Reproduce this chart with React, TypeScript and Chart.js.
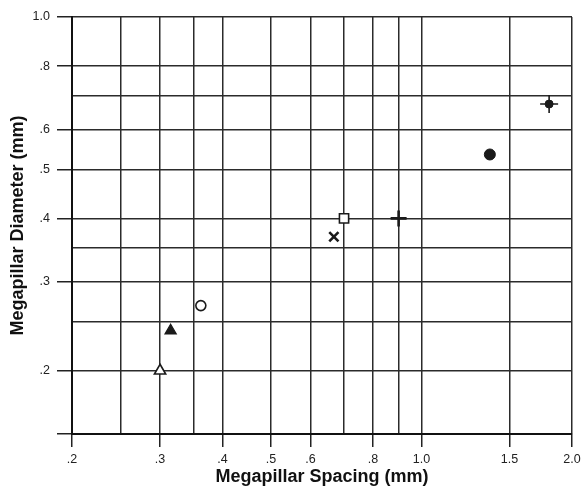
import React, { useEffect, useRef } from "react";
import { Chart, registerables } from "chart.js";

Chart.register(...registerables);

// ---- Data ----
const seriesNames = [
  "Open triangle",
  "Filled triangle",
  "Open circle",
  "Cross",
  "Open square",
  "Plus",
  "Filled circle",
  "Circle with cross",
];
const spacingMm = [0.3, 0.315, 0.362, 0.668, 0.7, 0.9, 1.37, 1.8];
const diameterMm = [0.2, 0.24, 0.269, 0.368, 0.4, 0.4, 0.535, 0.673];

const xTickValues = [0.2, 0.3, 0.4, 0.5, 0.6, 0.8, 1.0, 1.5, 2.0];
const xTickLabels = [".2", ".3", ".4", ".5", ".6", ".8", "1.0", "1.5", "2.0"];
const xExtraGrid = [0.25, 0.35, 0.7, 0.9];

const yTickValues = [0.15, 0.2, 0.3, 0.4, 0.5, 0.6, 0.8, 1.0];
const yTickLabels = ["", ".2", ".3", ".4", ".5", ".6", ".8", "1.0"];
const yExtraGrid = [0.25, 0.35, 0.7];

const xTitle = "Megapillar Spacing (mm)";
const yTitle = "Megapillar Diameter (mm)";

// ---- Styles (per series) ----
const INK = "#1a1a1a";
const markerStyles = [
  { pointStyle: "triangle", radius: 6.5, fill: "#ffffff", width: 1.6 },
  { pointStyle: "triangle", radius: 6.5, fill: INK, width: 1.2 },
  { pointStyle: "circle", radius: 5, fill: "#ffffff", width: 1.6 },
  { pointStyle: "crossRot", radius: 6.5, fill: INK, width: 2.6 },
  { pointStyle: "rect", radius: 6.5, fill: "#ffffff", width: 1.6 },
  { pointStyle: "cross", radius: 8, fill: INK, width: 2.6 },
  { pointStyle: "circle", radius: 5.5, fill: INK, width: 1 },
  { pointStyle: "circle", radius: 4, fill: INK, width: 1 },
];

const near = (a: number, b: number) => Math.abs(a - b) < 1e-9;
const findIdx = (arr: number[], v: number) => arr.findIndex((a) => near(a, v));

const FONT_FAMILY = "'Liberation Sans', Arial, Helvetica, sans-serif";

export default function App() {
  const ref = useRef<HTMLCanvasElement | null>(null);

  useEffect(() => {
    document.body.style.margin = "0";
    const canvas = ref.current;
    if (!canvas) return;

    const datasets: any[] = seriesNames.map((name, i) => ({
      label: name,
      data: [{ x: spacingMm[i], y: diameterMm[i] }],
      pointStyle: markerStyles[i].pointStyle,
      pointRadius: markerStyles[i].radius,
      pointBackgroundColor: markerStyles[i].fill,
      pointBorderColor: INK,
      pointBorderWidth: markerStyles[i].width,
      showLine: false,
    }));
    // cross-hair on the last point
    datasets.push({
      label: seriesNames[7] + " bars",
      data: [{ x: spacingMm[7], y: diameterMm[7] }],
      pointStyle: "cross",
      pointRadius: 9,
      pointBackgroundColor: INK,
      pointBorderColor: INK,
      pointBorderWidth: 1.6,
      showLine: false,
    });

    const xAll = [...xTickValues, ...xExtraGrid].sort((a, b) => a - b);
    const yAll = [...yTickValues, ...yExtraGrid].sort((a, b) => a - b);

    const chart = new Chart(canvas, {
      type: "scatter",
      data: { datasets },
      options: {
        animation: false,
        responsive: false,
        devicePixelRatio: 1,
        events: [],
        layout: { padding: { top: 17, right: 11, left: 0, bottom: 0 } },
        plugins: { legend: { display: false }, tooltip: { enabled: false } },
        scales: {
          x: {
            type: "logarithmic",
            min: 0.2,
            max: 2.0,
            afterBuildTicks: (scale: any) => {
              scale.ticks = xAll.map((v) => ({ value: v }));
            },
            afterFit: (scale: any) => {
              scale.height = 54;
              scale.paddingLeft = 0;
              scale.paddingRight = 0;
            },
            ticks: {
              autoSkip: false,
              maxRotation: 0,
              minRotation: 0,
              padding: 5,
              color: "#222",
              font: { family: FONT_FAMILY, size: 12.5 },
              callback: (value: any) => {
                const i = findIdx(xTickValues, Number(value));
                return i >= 0 ? xTickLabels[i] : "";
              },
            },
            grid: {
              color: "#2b2b2b",
              lineWidth: 1.5,
              drawTicks: true,
              tickLength: 13,
              tickWidth: 1.5,
              tickColor: (ctx: any) =>
                ctx.tick && findIdx(xTickValues, ctx.tick.value) >= 0 ? "#222" : "rgba(0,0,0,0)",
            },
            border: { display: true, color: "#111", width: 2 },
            title: {
              display: true,
              text: xTitle,
              color: "#111",
              font: { family: FONT_FAMILY, size: 18, weight: "bold" },
              padding: { top: 0, bottom: 0 },
            },
          },
          y: {
            type: "logarithmic",
            min: 0.15,
            max: 1.0,
            afterBuildTicks: (scale: any) => {
              scale.ticks = yAll.map((v) => ({ value: v }));
            },
            afterFit: (scale: any) => {
              scale.width = 72;
              scale.paddingTop = 0;
              scale.paddingBottom = 0;
            },
            ticks: {
              autoSkip: false,
              padding: 7,
              color: "#222",
              font: { family: FONT_FAMILY, size: 12.5 },
              callback: (value: any) => {
                const i = findIdx(yTickValues, Number(value));
                return i >= 0 ? yTickLabels[i] : "";
              },
            },
            grid: {
              color: "#2b2b2b",
              lineWidth: 1.5,
              drawTicks: true,
              tickLength: 15,
              tickWidth: 1.5,
              tickColor: (ctx: any) =>
                ctx.tick && findIdx(yTickValues, ctx.tick.value) >= 0 ? "#222" : "rgba(0,0,0,0)",
            },
            border: { display: true, color: "#111", width: 2 },
            title: {
              display: true,
              text: yTitle,
              color: "#111",
              font: { family: FONT_FAMILY, size: 18, weight: "bold" },
              padding: { top: 7, bottom: 0 },
            },
          },
        },
      },
    } as any);

    return () => chart.destroy();
  }, []);

  return (
    <div style={{ width: 583, height: 488, background: "#fff" }}>
      <canvas ref={ref} width={583} height={488} style={{ display: "block", width: 583, height: 488 }} />
    </div>
  );
}
